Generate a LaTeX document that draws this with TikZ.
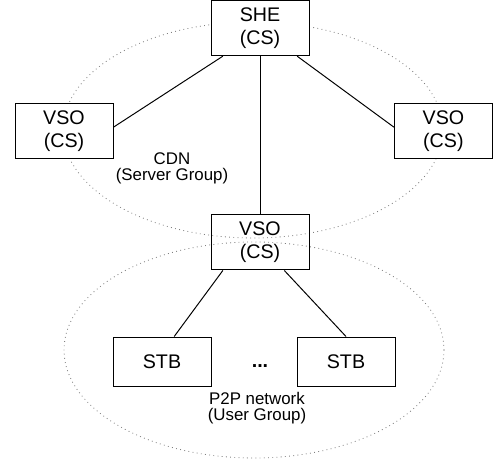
\documentclass[tikz,border=0pt]{standalone}
\usepackage{fontspec}
\setmainfont{Liberation Sans}
\usetikzlibrary{calc}

\begin{document}
\begin{tikzpicture}
		%styles for boxes, labels and groups
		\tikzset{
			server/.style={draw, fill=white, line width=0.7pt, minimum width=2.45cm, minimum height=1.375cm, inner sep=0pt, align=center, font=\fontsize{14}{16.5}\selectfont},
			stbbox/.style={draw, fill=white, line width=0.7pt, minimum width=2.45cm, minimum height=1.225cm, inner sep=0pt, font=\fontsize{14}{16.5}\selectfont},
			grouplabel/.style={align=center, font=\fontsize{12}{11.5}\selectfont},
			link/.style={line width=0.7pt},
			cloud/.style={gray, line width=0.6pt, dash pattern=on 0.6pt off 2.4pt}
		}
		
		\useasboundingbox (0,0) rectangle (12.325,11.5);
		
		%definition of group centres
		\coordinate (cdn centre) at (6.325,8.25);
		\coordinate (p2p centre) at (6.35,2.75);
		
		%groups
		\draw [cloud] (cdn centre) ellipse [x radius=4.75, y radius=2.7];
		\draw [cloud] (p2p centre) ellipse [x radius=4.75, y radius=2.7];
		
		%servers
		\node [server] (she) at (6.5,10.795) {SHE\\(CS)};
		\node [server] (vso left) at (1.6,8.2125) {VSO\\(CS)};
		\node [server] (vso right) at (11.085,8.2125) {VSO\\(CS)};
		\node [server, fill=none] (vso middle) at (6.5,5.4375) {VSO\\(CS)};
		
		%set-top boxes
		\node [stbbox] (stb left) at (4.05,2.4625) {STB};
		\node [stbbox] (stb right) at (8.65,2.4625) {STB};
		\node [font=\fontsize{14}{16}\selectfont\bfseries] (dots) at (6.5,2.36) {...};
		
		\node [grouplabel] (cdn label) at (4.3,7.3) {CDN\\(Server Group)};
		\node [grouplabel] (p2p label) at (6.425,1.3) {P2P network\\(User Group)};
		
		%links
		\draw [link] (she.217) -- (vso left.5);
		\draw [link] (she.323) -- (vso right.175);
		\draw [link] (she) -- (vso middle);
		\draw [link] (vso middle.217) -- (stb left.64);
		\draw [link] (vso middle.311) -- (stb right.north);
	\end{tikzpicture}
\end{document}
